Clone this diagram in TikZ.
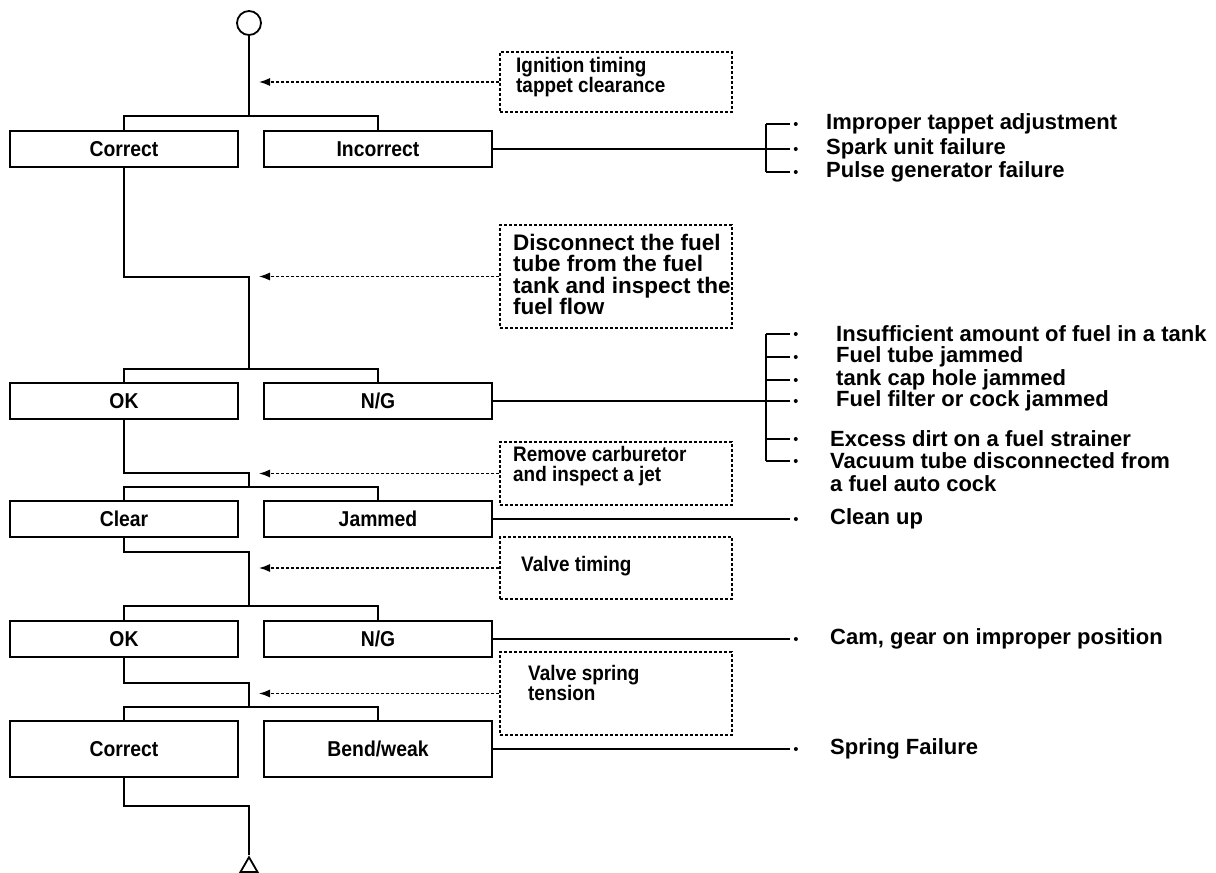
\documentclass[tikz,border=0pt]{standalone}
\usepackage{fontspec}
\setmainfont{Liberation Sans}
\newfontfamily\narrowsans{Liberation Sans}[FakeStretch=0.9]
\usetikzlibrary{arrows.meta,shapes.geometric}
\tikzset{
  opt/.style={draw, line width=1.8pt, minimum width=228pt, minimum height=36pt, inner sep=0pt, font=\narrowsans\fontsize{21.5}{22}\selectfont\bfseries},
  notebox/.style={draw, line width=1.2pt, dash pattern=on 3pt off 2pt, minimum width=232pt, inner sep=0pt},
  notetext/.style={anchor=west, align=left, inner sep=0pt, font=\narrowsans\fontsize{21}{20}\selectfont\bfseries},
  cause/.style={anchor=west, inner sep=0pt, font=\fontsize{22}{24}\selectfont\bfseries},
  link/.style={line width=1.8pt},
  note/.style={line width=1.3pt, dash pattern=on 3pt off 2pt, -{Latex[length=11pt,width=8pt]}, shorten >=10pt},
  tick/.style={line width=1.5pt},
  dot/.style={circle, fill, inner sep=0pt, minimum size=4pt}
}
\begin{document}
\begin{tikzpicture}[x=1pt,y=-1pt]
\useasboundingbox (0,0) rectangle (1216,873);

\node[circle, draw, line width=1.8pt, minimum size=24pt, inner sep=0pt] (start) at (249,23) {};
\node[draw, line width=1.8pt, regular polygon, regular polygon sides=3, minimum size=19.6pt, inner sep=0pt] (stop) at (249,867) {};

\coordinate (b1) at (249,116);
\coordinate (s1) at (249,277);
\coordinate (b2) at (249,369);
\coordinate (s2) at (249,473);
\coordinate (b3) at (249,487);
\coordinate (s3) at (249,552);
\coordinate (b4) at (249,606);
\coordinate (s4) at (249,683);
\coordinate (b5) at (249,707);
\coordinate (s5) at (249,806);
\coordinate (k1) at (766,149);
\coordinate (k2) at (766,401);
\coordinate (tk) at (790,0);

\node[opt] (c1) at (124,149) {Correct};
\node[opt] (i1) at (378,149) {Incorrect};
\node[opt] (c2) at (124,401) {OK};
\node[opt] (n2) at (378,401) {N/G};
\node[opt] (c3) at (124,519) {Clear};
\node[opt] (j3) at (378,519) {Jammed};
\node[opt] (c4) at (124,639) {OK};
\node[opt] (n4) at (378,639) {N/G};
\node[opt, minimum height=56pt] (c5) at (124,749) {Correct};
\node[opt, minimum height=56pt] (w5) at (378,749) {Bend/weak};

\node[notebox, minimum height=60pt] (d1) at (616,82) {};
\node[notebox, minimum height=103pt] (d2) at (616,276.5) {};
\node[notebox, minimum height=63pt] (d3) at (616,473.5) {};
\node[notebox, minimum height=62pt] (d4) at (616,568) {};
\node[notebox, minimum height=83pt] (d5) at (616,693.5) {};

\node[notetext] (t1) at (516,77) {Ignition timing\\tappet clearance};
\node[notetext, font=\fontsize{22.5}{21.5}\selectfont\bfseries] (t2) at (513,274.5) {Disconnect the fuel\\tube from the fuel\\tank and inspect the\\fuel flow};
\node[notetext] (t3) at (513,466) {Remove carburetor\\and inspect a jet};
\node[notetext] (t4) at (521,566) {Valve timing};
\node[notetext] (t5) at (528,683) {Valve spring\\tension};

\node[cause] (r11) at (826,124) {Improper tappet adjustment};
\node[cause] (r12) at (826,149) {Spark unit failure};
\node[cause] (r13) at (826,172) {Pulse generator failure};
\node[cause] (r21) at (836,334) {Insufficient amount of fuel in a tank};
\node[cause] (r22) at (836,357) {Fuel tube jammed};
\node[cause] (r23) at (836,380) {tank cap hole jammed};
\node[cause] (r24) at (836,401) {Fuel filter or cock jammed};
\node[cause] (r25) at (830,439) {Excess dirt on a fuel strainer};
\node[cause] (r26) at (830,461) {Vacuum tube disconnected from};
\node[cause] (r27) at (830,484) {a fuel auto cock};
\node[cause] (r3) at (830,519) {Clean up};
\node[cause] (r4) at (830,639) {Cam, gear on improper position};
\node[cause] (r5) at (830,749) {Spring Failure};

\draw[link] (start) -- (b1);
\draw[link] (c1.north) |- (b1) -| (i1.north);
\draw[link] (c1.south) |- (s1) -- (b2);
\draw[link] (c2.north) |- (b2) -| (n2.north);
\draw[link] (c2.south) |- (s2) -- (b3);
\draw[link] (c3.north) |- (b3) -| (j3.north);
\draw[link] (c3.south) |- (s3) -- (b4);
\draw[link] (c4.north) |- (b4) -| (n4.north);
\draw[link] (c4.south) |- (s4) -- (b5);
\draw[link] (c5.north) |- (b5) -| (w5.north);
\draw[link] (c5.south) |- (s5) -- (stop.north);

\draw[note] (d1.west) -- (d1.west -| b1);
\draw[note] (d2.west) -- (d2.west -| b1);
\draw[note] (d3.west) -- (d3.west -| b1);
\draw[note] (d4.west) -- (d4.west -| b1);
\draw[note] (d5.west) -- (d5.west -| b1);

\draw[link] (i1.east) -- (k1);
\draw[tick] (k1 |- r11.west) -- (k1 |- r13.west);
\foreach \r in {r11,r12,r13}
  \draw[tick] (k1 |- \r.west) -- (tk |- \r.west) node[dot, right=3pt] {};

\draw[link] (n2.east) -- (k2);
\draw[tick] (k2 |- r21.west) -- (k2 |- r26.west);
\foreach \r in {r21,r22,r23,r24,r25,r26}
  \draw[tick] (k2 |- \r.west) -- (tk |- \r.west) node[dot, right=3pt] {};

\draw[link] (j3.east) -- (tk |- j3.east) node[dot, right=3pt] {};
\draw[link] (n4.east) -- (tk |- n4.east) node[dot, right=3pt] {};
\draw[link] (w5.east) -- (tk |- w5.east) node[dot, right=3pt] {};
\end{tikzpicture}
\end{document}
